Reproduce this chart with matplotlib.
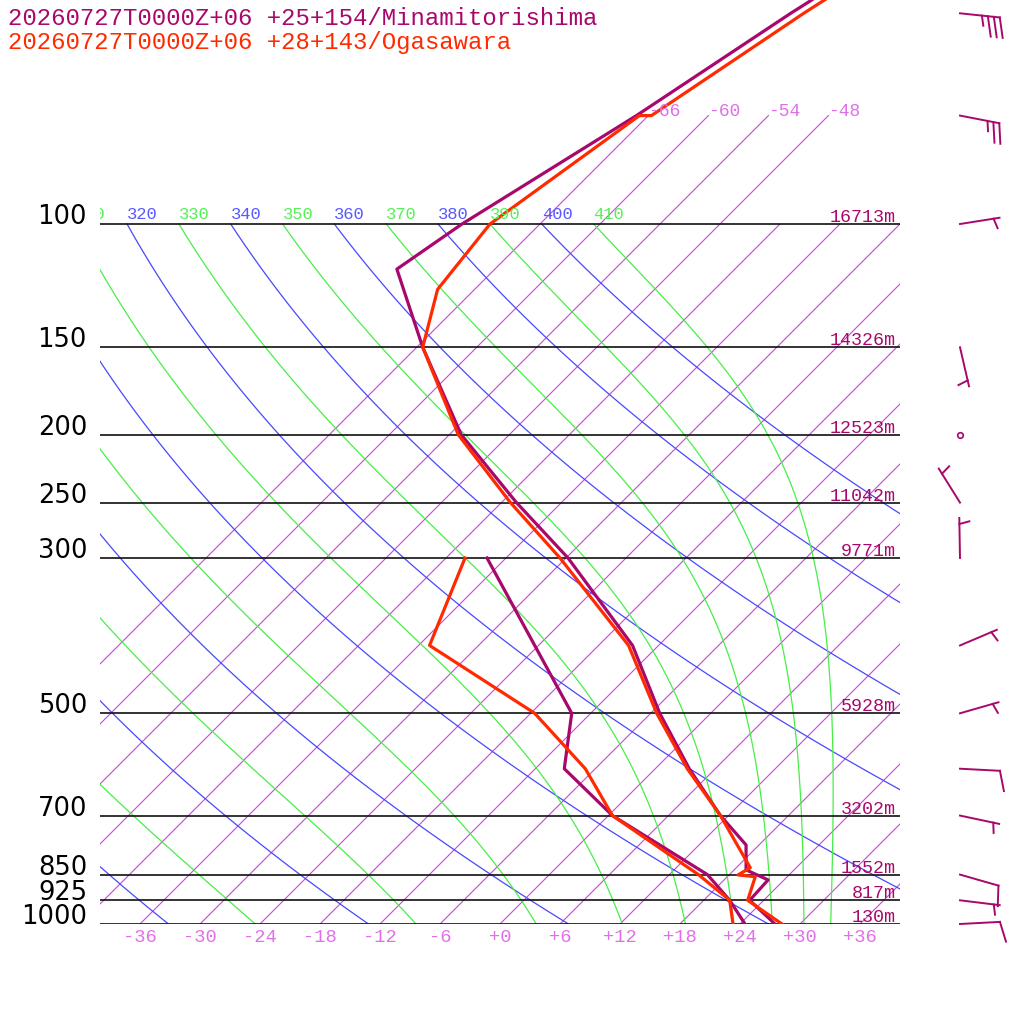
import numpy as np
import matplotlib
matplotlib.use('Agg')
import matplotlib.pyplot as plt
from matplotlib.transforms import offset_copy

# ---- data -------------------------------------------------------------
st1_title = '20260727T0000Z+06 +25+154/Minamitorishima'
st2_title = '20260727T0000Z+06 +28+143/Ogasawara'

# station 1 (Minamitorishima) temperature / dewpoint profile
st1_t_p = [1000, 925, 865, 837, 771, 700, 600, 500, 400, 300, 250, 200, 150, 116, 100, 70, 50, 30]
st1_t = [27.5, 22.6, 22.4, 19.2, 16.7, 11.2, 3.4, -5.1, -14.6, -29.8, -40.5, -52.8, -65.4, -75.8, -73.8, -67.2, -62.0, -53.0]
st1_td_p = [1000, 925, 850, 700, 600, 500, 300]
st1_td = [24.5, 20.6, 15.8, 0.4, -9.1, -13.9, -37.9]

# station 2 (Ogasawara)
st2_t_p = [1000, 925, 856, 851, 831, 700, 600, 500, 400, 300, 250, 200, 150, 124, 100, 70, 70, 50, 30]
st2_t = [28.2, 22.4, 20.8, 18.9, 19.4, 11.2, 3.2, -5.4, -15.0, -30.6, -41.1, -53.1, -65.4, -69.7, -71.0, -66.9, -65.7, -60.7, -52.0]
st2_td_p = [1000, 925, 850, 700, 600, 500, 400, 300]
st2_td = [23.3, 20.6, 14.9, 0.4, -7.0, -17.6, -34.9, -40.1]

# station 1 heights of the standard levels
std_levels = [1000, 925, 850, 700, 500, 300, 250, 200, 150, 100]
st1_heights = ['130m', '817m', '1552m', '3202m', '5928m', '9771m', '11042m', '12523m', '14326m', '16713m']

# station 1 winds (direction deg, speed kt)
wind_p = [50, 70, 100, 150, 200, 250, 300, 400, 500, 600, 700, 850, 925, 1000]
wind_dir = [96, 101, 81, 167, 0, 328, 359, 67, 74, 93, 102, 106, 97, 87]
wind_spd = [35, 25, 5, 5, 0, 5, 5, 5, 5, 10, 5, 10, 5, 10]

isotherms = list(range(-66, 37, 6))
dry_thetas = list(range(240, 401, 20))
moist_thetas = list(range(250, 411, 20))
temp_ticks = list(range(-36, 37, 6))

# ---- colours ------------------------------------------------------------
c_st1 = '#a8086c'
c_st2 = '#ff2a00'
c_iso = '#cc44dd'
c_iso_txt = '#e070e8'
c_dry = '#4848ff'
c_moist = '#48ee48'
mono = 'Liberation Mono'

SKEW = 30.4
P_TOP = 1000 * np.exp(-924 / 304)
Rd, cp, Lv, eps = 287.04, 1005.7, 2.501e6, 0.622


def skx(t, p):
    return np.asarray(t) + SKEW * np.log(1000.0 / np.asarray(p))


def sat_mix(p, t):
    es = 6.112 * np.exp(17.67 * (t - 273.15) / (t - 29.65))
    return eps * es / (p - es)


def moist_rate(lnp, t):
    p = np.exp(lnp)
    rs = sat_mix(p, t)
    return (Rd * t + Lv * rs) / (cp + Lv ** 2 * rs * eps / (Rd * t ** 2))


def moist_adiabat(theta, n=300):
    lnp = np.linspace(np.log(100.0), np.log(1000.0), n)
    t = np.empty(n)
    t[0] = theta * (0.1) ** (Rd / cp)
    h = lnp[1] - lnp[0]
    for i in range(n - 1):
        k1 = moist_rate(lnp[i], t[i])
        k2 = moist_rate(lnp[i] + h / 2, t[i] + h / 2 * k1)
        k3 = moist_rate(lnp[i] + h / 2, t[i] + h / 2 * k2)
        k4 = moist_rate(lnp[i] + h, t[i] + h * k3)
        t[i + 1] = t[i] + h / 6 * (k1 + 2 * k2 + 2 * k3 + k4)
    return np.exp(lnp), t - 273.15


fig = plt.figure(figsize=(10.24, 10.24), dpi=100)
ax = fig.add_axes([100 / 1024, 100 / 1024, 800 / 1024, 924 / 1024])
ax.set_yscale('log')
ax.set_xlim(-40, 40)
ax.set_ylim(1000, P_TOP)
ax.axis('off')

# isotherms
for t in isotherms:
    top = 70 if skx(t, 70) <= 35 else 100
    pp = np.array([1000, top])
    ax.plot(skx([t, t], pp), pp, color=c_iso, lw=0.8)
    if top == 70:
        ax.text(skx(t, 70), 70, '%d' % t, color=c_iso_txt, fontsize=13,
                family=mono, ha='left', va='baseline')

# dry adiabats
pp = np.exp(np.linspace(np.log(1000), np.log(100), 100))
lab_tr = offset_copy(ax.transData, fig=fig, y=5, units='dots')
for th in dry_thetas:
    tt = th * (pp / 1000) ** (Rd / cp) - 273.15
    ax.plot(skx(tt, pp), pp, color=c_dry, lw=0.9)
    xl = skx(tt[-1], 100)
    if xl > -45:
        ax.text(xl, 100, str(th), color='#5858ff', fontsize=12.3, family=mono,
                ha='left', va='baseline', transform=lab_tr, clip_on=True)

# moist adiabats
for th in moist_thetas:
    mp, mt = moist_adiabat(th)
    ax.plot(skx(mt, mp), mp, color=c_moist, lw=0.9)
    xl = skx(mt[0], 100)
    if xl > -45:
        ax.text(xl, 100, str(th), color='#58ee58', fontsize=12.3, family=mono,
                ha='left', va='baseline', transform=lab_tr, clip_on=True)

# pressure lines + labels
h_tr = offset_copy(ax.transData, fig=fig, y=2, units='dots')
for p, h in zip(std_levels, st1_heights):
    ax.plot([-40, 40], [p, p], color='#111111', lw=1.2)
    ax.text(-41.3, p, str(p), ha='right', va='baseline', fontsize=18.5,
            family='DejaVu Sans', clip_on=False)
    ax.text(39.6, p, h, ha='right', va='baseline', fontsize=13.2,
            family=mono, color=c_st1, transform=h_tr)

# temperature tick labels
for t in temp_ticks:
    ax.text(t, 1000 * np.exp(13 / 304), '%+d' % t if t >= 0 else '%d' % t,
            color=c_iso_txt, fontsize=13.5, family=mono,
            ha='center', va='center', clip_on=False)

# soundings
ax.plot(skx(st1_t, st1_t_p), st1_t_p, color=c_st1, lw=2.3)
ax.plot(skx(st1_td, st1_td_p), st1_td_p, color=c_st1, lw=2.3)
ax.plot(skx(st2_t, st2_t_p), st2_t_p, color=c_st2, lw=2.3)
ax.plot(skx(st2_td, st2_td_p), st2_td_p, color=c_st2, lw=2.3)

# titles
fig.text(8 / 1024, 1 - 25 / 1024, st1_title, color=c_st1, fontsize=17.3,
         family=mono, va='baseline')
fig.text(8 / 1024, 1 - 49 / 1024, st2_title, color=c_st2, fontsize=17.3,
         family=mono, va='baseline')

# wind barbs, drawn in pixel space on an overlay
ov = fig.add_axes([0, 0, 1, 1])
ov.set_xlim(0, 1024)
ov.set_ylim(1024, 0)
ov.axis('off')


def draw_barb(x0, y0, wdir, wspd, color):
    if wspd < 2.5:
        ov.plot(x0, y0, marker='o', ms=4, mfc='none', mec=color, mew=1.2)
        return
    L, sp, fh, lean = 40.0, 6.0, 20.0, 5.0
    d = np.deg2rad(wdir)
    u = np.array([np.sin(d), -np.cos(d)])
    r = np.array([-u[1], u[0]])
    base = np.array([x0, y0])
    tip = base + L * u
    ov.plot([base[0], tip[0]], [base[1], tip[1]], color=color, lw=1.4)
    spd = int(round(wspd / 5.0) * 5)
    n10, rem = divmod(spd, 10)
    n5 = rem // 5
    pos = 0.0
    for i in range(n10):
        s = tip - pos * u
        e = s + fh * r + lean * u
        ov.plot([s[0], e[0]], [s[1], e[1]], color=color, lw=1.4)
        pos += sp
    if n5:
        if pos == 0:
            pos = sp
        s = tip - pos * u
        e = s + fh / 2 * r + lean / 2 * u
        ov.plot([s[0], e[0]], [s[1], e[1]], color=color, lw=1.4)


for p, wd, ws in zip(wind_p, wind_dir, wind_spd):
    disp = ax.transData.transform((0, p))
    y_px = ov.transData.inverted().transform(disp)[1]
    draw_barb(960, y_px, wd, ws, c_st1)

fig.savefig('out.png', dpi=100)
plt.close()
